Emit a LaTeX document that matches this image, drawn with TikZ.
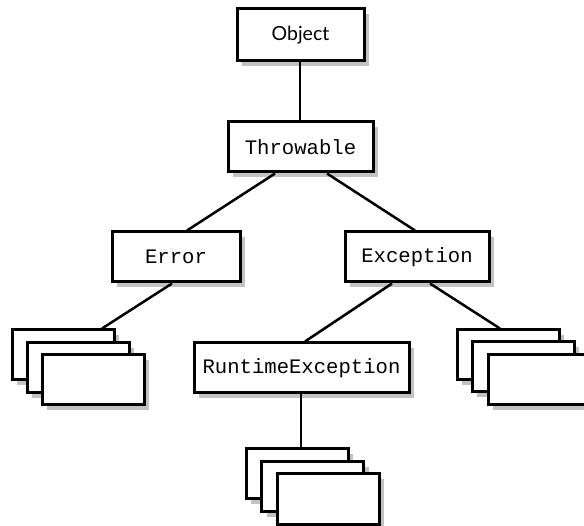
\documentclass[tikz,border=0pt]{standalone}
\usepackage{fontspec}
\setmainfont{Lato}
\newfontfamily\monofont{Liberation Mono}
\usetikzlibrary{shadows}
\begin{document}
\begin{tikzpicture}[x=1pt,y=-1pt,
  box/.style={draw, line width=3pt, fill=white, rectangle, inner sep=0pt,
    minimum height=50pt,
    drop shadow={shadow xshift=5pt, shadow yshift=-5pt, fill=black!24, opacity=1}},
  stackbox/.style={box, minimum width=102pt},
  conn/.style={line width=2.5pt},
  mono/.style={font=\monofont\fontsize{20.6}{24}\selectfont},
  sans/.style={font=\fontsize{19.5}{23}\selectfont}]
\useasboundingbox (0,0) rectangle (584,526);
\clip (0,0) rectangle (584,526);
% boxes
\node[box, sans, minimum width=127pt, minimum height=52pt] (object) at (300.5,35) {Object};
\node[box, mono, minimum width=145pt] (throwable) at (300.5,147) {Throwable};
\node[box, mono, minimum width=128pt] (error) at (176,257) {Error};
\node[box, mono, minimum width=144pt] (exception) at (417,257) {Exception};
\node[box, mono, minimum width=215pt] (rte) at (301.5,368) {RuntimeException};
% left stack
\node[stackbox] (l1) at (63,355) {};
\node[stackbox] (l2) at (78,368) {};
\node[stackbox] (l3) at (93,380) {};
% right stack
\node[stackbox] (r1) at (508,355) {};
\node[stackbox] (r2) at (523,367) {};
\node[stackbox] (r3) at (539,380) {};
% bottom stack
\node[stackbox] (b1) at (297,474) {};
\node[stackbox] (b2) at (312.5,487) {};
\node[stackbox] (b3) at (328,499) {};
% connectors
\draw[conn] ([xshift=-0.5pt]object.south) -- ([xshift=-0.5pt]throwable.north);
\draw[conn] ([xshift=-25.5pt]throwable.south) -- ([xshift=11pt]error.north);
\draw[conn] ([xshift=26.5pt]throwable.south) -- ([xshift=-2pt]exception.north);
\draw[conn] ([xshift=-4pt]error.south) -- ([xshift=39pt]l1.north);
\draw[conn] ([xshift=-25pt]exception.south) -- ([xshift=3.5pt]rte.north);
\draw[conn] ([xshift=13pt]exception.south) -- ([xshift=-8pt]r1.north);
\draw[conn] ([xshift=-0.5pt]rte.south) -- ([xshift=4pt]b1.north);
\end{tikzpicture}
\end{document}
